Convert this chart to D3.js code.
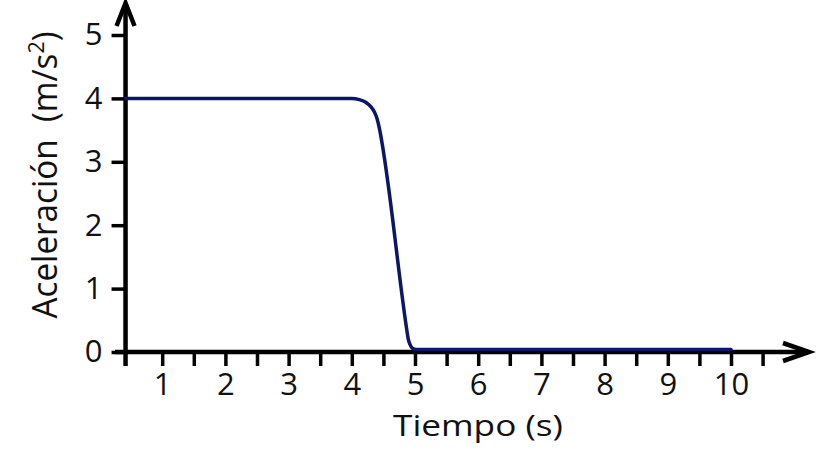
<!DOCTYPE html>
<html>
<head>
<meta charset="utf-8">
<script src="https://cdn.jsdelivr.net/npm/d3@7"></script>
<style>
  body { margin: 0; background: #fff; }
  text { font-family: "Open Sans", sans-serif; fill: #111; }
</style>
</head>
<body>
<div id="chart"></div>
<script>
// values
var tiempo = [0.42, 4.0, 4.12, 4.22, 4.3, 4.36, 4.4, 4.42, 4.87, 4.89, 4.92, 4.96, 5.02, 10];
var aceleracion = [4, 4, 3.98, 3.94, 3.87, 3.78, 3.68, 3.6, 0.35, 0.22, 0.12, 0.06, 0.04, 0.04];
var xLabels = [1, 2, 3, 4, 5, 6, 7, 8, 9, 10];
var xMinor = [1.5, 2.5, 3.5, 4.5, 5.5, 6.5, 7.5, 8.5, 9.5, 10.5];
var yLabels = [0, 1, 2, 3, 4, 5];

var width = 821, height = 456;
var originT = 0.42;

var svg = d3.select("#chart").append("svg")
    .attr("width", width)
    .attr("height", height);

var x = d3.scaleLinear().domain([0, 10]).range([99, 731]);
var y = d3.scaleLinear().domain([0, 5]).range([352, 35]);
var x0 = x(originT), y0 = y(0);

// x ticks
var xAxis = d3.axisBottom(x)
    .tickValues(xLabels.concat(xMinor))
    .tickSize(14)
    .tickPadding(7)
    .tickFormat(function (d) { return xLabels.indexOf(d) >= 0 ? d : ""; });

var gx = svg.append("g")
    .attr("transform", "translate(0," + y0 + ")")
    .call(xAxis);
gx.select(".domain").remove();
gx.selectAll(".tick line").attr("stroke", "#000").attr("stroke-width", 3.5);
gx.selectAll(".tick text").attr("font-size", 31).attr("fill", "#111");

// y ticks
var yAxis = d3.axisLeft(y)
    .tickValues(yLabels)
    .tickSize(14)
    .tickPadding(9)
    .tickFormat(d3.format("d"));

var gy = svg.append("g")
    .attr("transform", "translate(" + x0 + ",0)")
    .call(yAxis);
gy.select(".domain").remove();
gy.selectAll(".tick line").attr("stroke", "#000").attr("stroke-width", 3.5);
gy.selectAll(".tick text").attr("font-size", 31).attr("fill", "#111");

// axis lines with open arrows
var axes = svg.append("g")
    .attr("fill", "none")
    .attr("stroke", "#000")
    .attr("stroke-width", 4.5);

axes.append("line")
    .attr("x1", 115).attr("y1", y0)
    .attr("x2", 808).attr("y2", y0);
axes.append("line")
    .attr("x1", x0).attr("y1", y0 + 14)
    .attr("x2", x0).attr("y2", 5);

axes.append("polyline")
    .attr("stroke-linejoin", "miter")
    .attr("points", [[783, y0 - 9], [809, y0], [783, y0 + 9]].join(" "));
axes.append("polyline")
    .attr("stroke-linejoin", "miter")
    .attr("points", [[x0 - 9, 26], [x0, 3], [x0 + 9, 26]].join(" "));

// curve
var line = d3.line()
    .x(function (d) { return x(d[0]); })
    .y(function (d) { return y(d[1]); })
    .curve(d3.curveMonotoneX);

svg.append("path")
    .datum(d3.zip(tiempo, aceleracion))
    .attr("fill", "none")
    .attr("stroke", "#0c1668")
    .attr("stroke-width", 3.5)
    .attr("stroke-linecap", "round")
    .attr("stroke-linejoin", "round")
    .attr("d", line);

// axis titles
svg.append("text")
    .attr("x", 478)
    .attr("y", 436)
    .attr("text-anchor", "middle")
    .attr("font-size", 29)
    .attr("textLength", 170)
    .attr("lengthAdjust", "spacingAndGlyphs")
    .text("Tiempo (s)");

var yt = svg.append("text")
    .attr("transform", "translate(57,175) rotate(-90)")
    .attr("text-anchor", "middle")
    .attr("font-size", 34)
    .attr("textLength", 287)
    .attr("lengthAdjust", "spacingAndGlyphs");
yt.append("tspan").text("Aceleración\u00a0\u00a0(m/s");
yt.append("tspan").attr("font-size", 22).attr("dy", -13).text("2");
yt.append("tspan").attr("dy", 13).text(")");
</script>
</body>
</html>
